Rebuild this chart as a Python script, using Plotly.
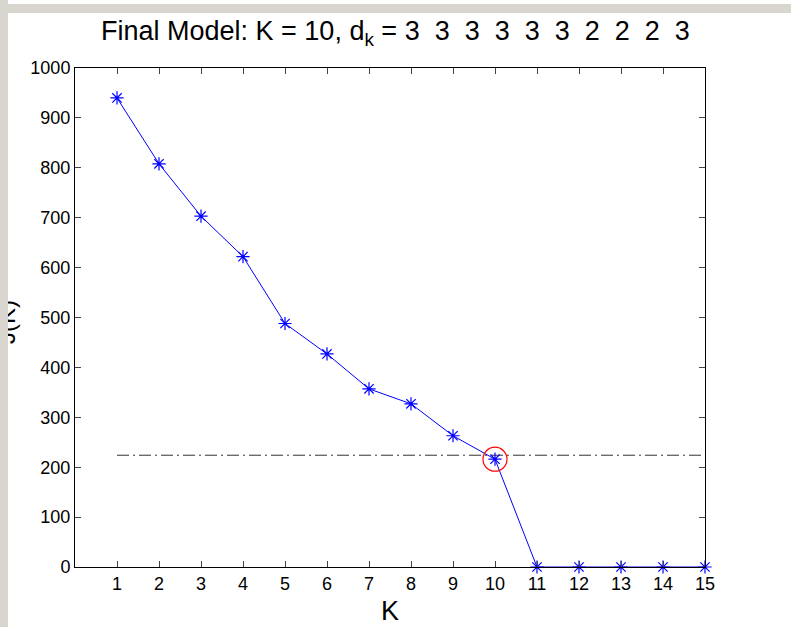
import plotly.graph_objects as go

K = list(range(1, 16))
J = [940, 808, 703, 622, 488, 427, 357, 327, 263, 216, 0, 0, 0, 0, 0]
threshold = 224
selected_k = 10
d_k = [3, 3, 3, 3, 3, 3, 2, 2, 2, 3]
x_ticks = list(range(1, 16))
y_ticks = list(range(0, 1001, 100))

W, H = 791, 627
L, R, T, B = 75, 86, 68, 60
pw, ph = W - L - R, H - T - B

def px(x):
    return (x - L) / pw

def py(y):
    return (H - B - y) / ph

GRAY = "#d9d6cf"
FONT = "Liberation Sans, Arial, sans-serif"

fig = go.Figure()
fig.add_trace(go.Scatter(x=[K[0], K[-1]], y=[threshold, threshold], mode="lines",
                         line=dict(color="#333333", width=1, dash="12px,4px,2px,4px"),
                         hoverinfo="skip", showlegend=False))
fig.add_trace(go.Scatter(x=K, y=J, mode="lines+markers",
                         line=dict(color="#0000ff", width=1),
                         marker=dict(symbol="asterisk-open", size=11, color="#0000ff",
                                     line=dict(color="#0000ff", width=1.2)),
                         cliponaxis=False, showlegend=False))
fig.add_trace(go.Scatter(x=[selected_k], y=[J[selected_k - 1]], mode="markers",
                         marker=dict(symbol="circle-open", size=24, color="#ff0000",
                                     line=dict(color="#ff0000", width=1.2)),
                         cliponaxis=False, showlegend=False))

title = ("Final Model: K = %d, d<sub>k</sub> = " % selected_k) + "\u00a0\u00a0".join(str(v) for v in d_k)

axis_common = dict(showline=True, linecolor="black", linewidth=1, mirror="ticks",
                   ticks="inside", ticklen=6, tickcolor="#444444", showgrid=False,
                   zeroline=False, automargin=False,
                   tickfont=dict(family=FONT, size=18, color="black"))

fig.update_layout(
    width=W, height=H,
    margin=dict(l=L, r=R, t=T, b=B, pad=0),
    paper_bgcolor=GRAY, plot_bgcolor="white",
    font=dict(family=FONT, color="black"),
    xaxis=dict(range=[0, 15], tickvals=x_ticks, ticktext=[str(v) for v in x_ticks],
               title=dict(text="K", font=dict(family=FONT, size=27), standoff=8), **axis_common),
    yaxis=dict(range=[0, 1000], tickvals=y_ticks, ticktext=[str(v) for v in y_ticks],
               **axis_common),
    shapes=[
        dict(type="rect", xref="paper", yref="paper", layer="below",
             x0=px(8), x1=px(W), y0=py(H), y1=py(13), fillcolor="white", line=dict(width=0)),
        dict(type="rect", xref="paper", yref="paper", layer="below",
             x0=px(8), x1=px(W), y0=py(4), y1=py(0), fillcolor="white", line=dict(width=0)),
    ],
    annotations=[
        dict(text=title, xref="paper", yref="paper", x=px(395), y=py(33),
             xanchor="center", yanchor="middle", showarrow=False,
             font=dict(family=FONT, size=27, color="black")),
        dict(text="J(K)", xref="paper", yref="paper", x=px(6), y=py(322),
             xanchor="center", yanchor="middle", textangle=-90, showarrow=False,
             font=dict(family=FONT, size=24, color="black")),
        dict(text=" ", xref="paper", yref="paper", x=px(0), y=py(0),
             xanchor="left", yanchor="top", showarrow=False, width=8, height=H,
             bgcolor=GRAY, borderpad=0, borderwidth=0),
    ],
)

fig.write_html("out.html")
